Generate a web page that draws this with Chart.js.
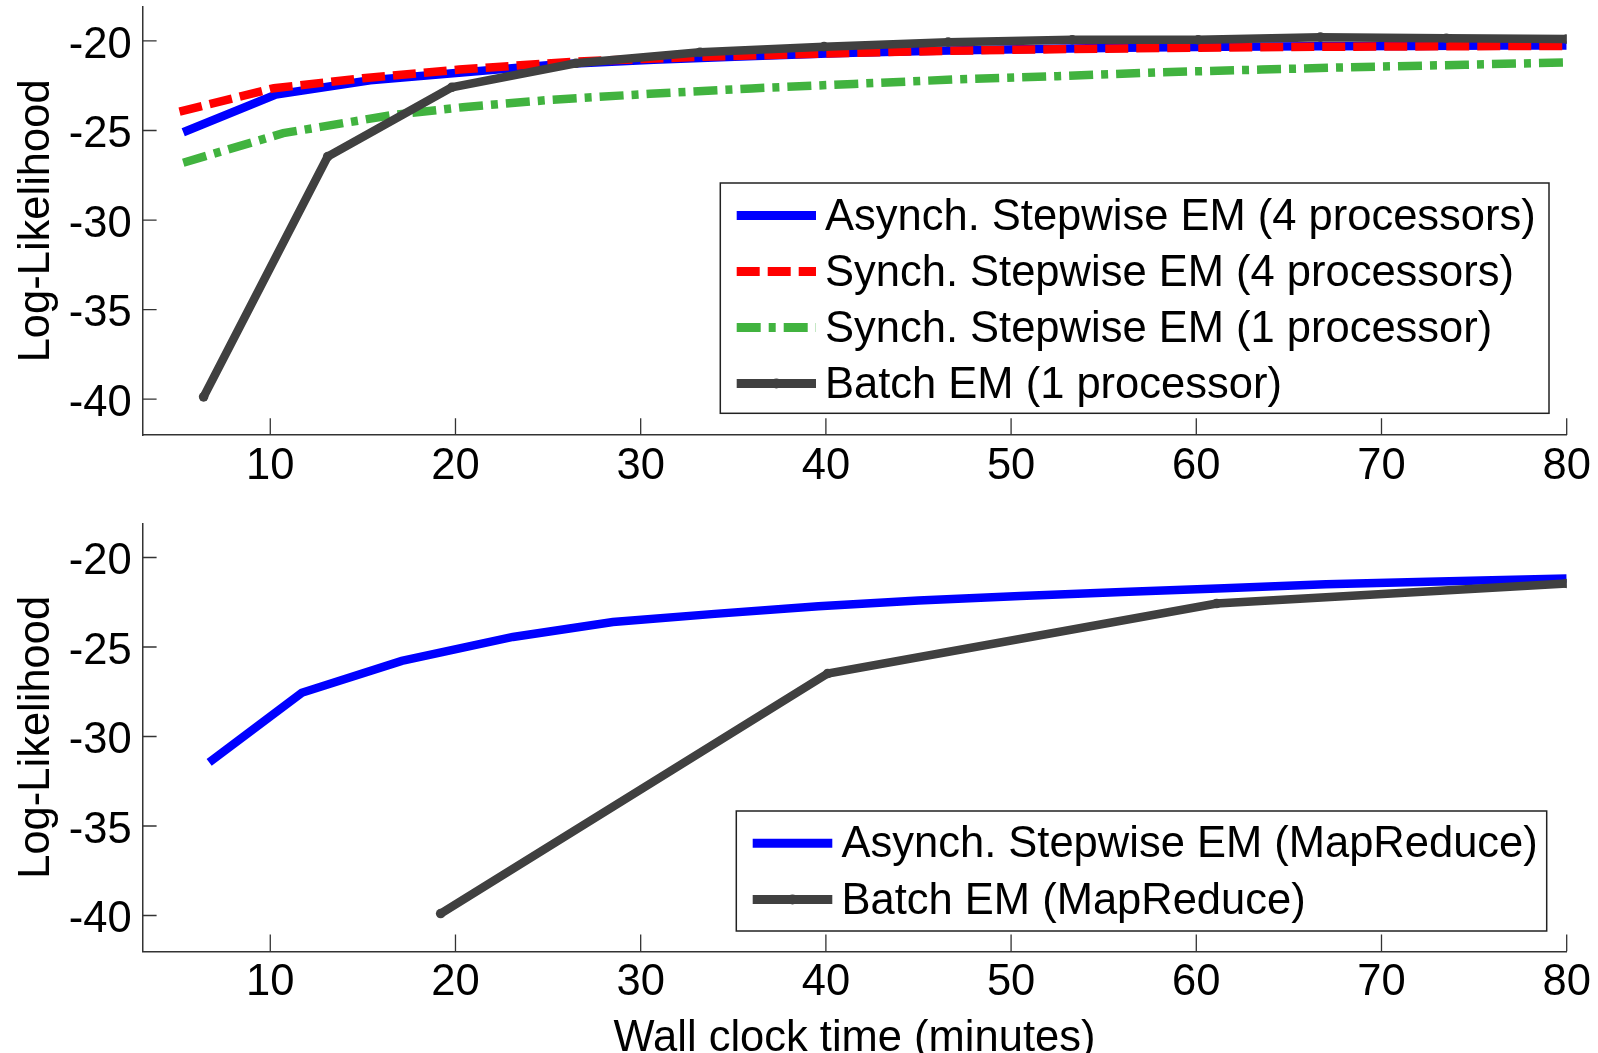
<!DOCTYPE html>
<html><head><meta charset="utf-8">
<script src="https://cdn.jsdelivr.net/npm/chart.js@4.4.1/dist/chart.umd.min.js"></script>
<style>
html,body{margin:0;padding:0;background:#fff;overflow:hidden;width:1598px;height:1053px;}
#c1{position:absolute;left:0;top:0;}
#c2{position:absolute;left:0;top:505px;}
</style></head><body>
<canvas id="c1" width="1598" height="505"></canvas>
<canvas id="c2" width="1598" height="548"></canvas>
<script>
// ---- data ----
const xTickValues = [10, 20, 30, 40, 50, 60, 70, 80];
const yTickValues = [-40, -35, -30, -25, -20];

const topLabels = ["Asynch. Stepwise EM (4 processors)", "Synch. Stepwise EM (4 processors)", "Synch. Stepwise EM (1 processor)", "Batch EM (1 processor)"];
const topAsyncX = [5.3, 10.3, 15.4, 20.5, 25.6, 30.7, 35.8, 40.9, 46.0, 51.1, 56.2, 61.3, 66.4, 71.5, 76.6, 80];
const topAsyncY = [-25.1, -23.0, -22.2, -21.75, -21.3, -21.05, -20.85, -20.68, -20.55, -20.45, -20.38, -20.33, -20.3, -20.28, -20.26, -20.25];
const topSync4X = [5.1, 10.2, 15.0, 20.2, 26.5, 33.0, 40.0, 46.6, 53.3, 60.0, 66.7, 73.3, 80];
const topSync4Y = [-23.95, -22.64, -22.08, -21.6, -21.15, -20.9, -20.7, -20.55, -20.45, -20.38, -20.33, -20.3, -20.28];
const topSync1X = [5.3, 10.7, 16.5, 20.4, 25.0, 30.5, 36.0, 41.5, 47.0, 52.5, 58.0, 63.5, 69.0, 74.5, 80];
const topSync1Y = [-26.8, -25.15, -24.15, -23.7, -23.3, -22.95, -22.65, -22.4, -22.15, -21.97, -21.75, -21.6, -21.45, -21.33, -21.2];
const topBatchX = [6.4, 13.1, 19.8, 26.5, 33.2, 39.9, 46.6, 53.3, 60.1, 66.7, 73.5, 80];
const topBatchY = [-39.87, -26.46, -22.59, -21.25, -20.63, -20.32, -20.07, -19.94, -19.94, -19.79, -19.85, -19.9];

const botLabels = ["Asynch. Stepwise EM (MapReduce)", "Batch EM (MapReduce)"];
const botAsyncX = [6.7, 11.7, 17.1, 23.1, 28.5, 34.0, 39.6, 45.0, 50.5, 56.0, 61.5, 67.0, 72.5, 80];
const botAsyncY = [-31.45, -27.56, -25.78, -24.44, -23.6, -23.15, -22.72, -22.4, -22.15, -21.93, -21.72, -21.5, -21.35, -21.17];
const botBatchX = [19.2, 40.1, 61.1, 80];
const botBatchY = [-39.89, -26.48, -22.57, -21.45];

// ---- helpers ----
const FAM = '"Liberation Sans", Arial, Helvetica, sans-serif';
const FS = 43.5;
const LW = 8.5;
const pts = (xs, ys) => xs.map((x, i) => ({x: x, y: ys[i]}));

const BLUE = '#0000ff', RED = '#ff0000', GREEN = '#41b33f', DARK = '#404040';

function ds(label, xs, ys, color, dash, order, marker) {
  return {
    label: label, data: pts(xs, ys), borderColor: color, backgroundColor: color,
    borderWidth: LW, borderDash: dash, borderCapStyle: 'butt', borderJoinStyle: 'miter',
    pointRadius: marker ? 4.8 : 0, pointHoverRadius: 0, pointBackgroundColor: color,
    pointBorderWidth: 0, tension: 0, fill: false, order: order, _marker: marker
  };
}

const innerTicks = {
  id: 'innerTicks',
  beforeDatasetsDraw(chart) {
    const {ctx, chartArea: a, scales: {x, y}} = chart;
    ctx.save();
    ctx.strokeStyle = '#333'; ctx.lineWidth = 1.3;
    ctx.beginPath();
    x.ticks.forEach(t => { const p = x.getPixelForValue(t.value); ctx.moveTo(p, a.bottom); ctx.lineTo(p, a.bottom - 16.7); });
    y.ticks.forEach(t => { const p = y.getPixelForValue(t.value); ctx.moveTo(a.left, p); ctx.lineTo(a.left + 14.3, p); });
    ctx.stroke();
    ctx.restore();
  }
};

const boxLegend = {
  id: 'boxLegend',
  afterDraw(chart, args, o) {
    const ctx = chart.ctx;
    ctx.save();
    ctx.fillStyle = '#fff';
    ctx.fillRect(o.left, o.top, o.right - o.left, o.bottom - o.top);
    ctx.strokeStyle = '#222'; ctx.lineWidth = 1.5; ctx.setLineDash([]);
    ctx.strokeRect(o.left, o.top, o.right - o.left, o.bottom - o.top);
    chart.data.datasets.forEach((d, i) => {
      const yy = o.rows[i];
      ctx.strokeStyle = d.borderColor; ctx.lineWidth = 9; ctx.lineCap = 'butt';
      ctx.setLineDash(d.borderDash || []);
      ctx.beginPath(); ctx.moveTo(o.sx0, yy); ctx.lineTo(o.sx1, yy); ctx.stroke();
      ctx.setLineDash([]);
      if (d._marker) {
        ctx.fillStyle = d.borderColor;
        ctx.beginPath(); ctx.arc((o.sx0 + o.sx1) / 2, yy, 5, 0, Math.PI * 2); ctx.fill();
      }
      ctx.fillStyle = '#000'; ctx.font = FS + 'px ' + FAM;
      ctx.textBaseline = 'middle'; ctx.textAlign = 'left';
      ctx.fillText(d.label, o.tx, yy + 2);
    });
    ctx.restore();
  }
};

function makeOptions(cfg) {
  return {
    responsive: false, animation: false, devicePixelRatio: 1,
    layout: {padding: {top: cfg.padTop, right: 31.3, left: 0, bottom: 0}},
    plugins: {legend: {display: false}, tooltip: {enabled: false}, boxLegend: cfg.legend},
    scales: {
      x: {
        type: 'linear', min: 3.09, max: 80,
        afterBuildTicks: s => { s.ticks = xTickValues.map(v => ({value: v})); },
        afterFit: s => { s.height = cfg.xHeight; },
        grid: {display: false, drawTicks: true, tickLength: 10.25},
        border: {display: true, color: '#333', width: 1.5},
        ticks: {padding: 0, color: '#000', maxRotation: 0, autoSkip: false,
          font: {family: FAM, size: FS, lineHeight: 1}, callback: v => String(v)},
        title: cfg.xTitle ? {display: true, text: 'Wall clock time (minutes)', color: '#000',
          font: {family: FAM, size: FS, lineHeight: 0.5}, padding: {top: 0, bottom: 2.8}} : {display: false}
      },
      y: {
        type: 'linear', min: -42.0, max: -18.09,
        afterBuildTicks: s => { s.ticks = yTickValues.map(v => ({value: v})); },
        afterFit: s => { s.width = 142.3; },
        grid: {display: false, drawTicks: true, tickLength: 10.6},
        border: {display: true, color: '#333', width: 1.5},
        ticks: {padding: 0, color: '#000', labelOffset: 4.7,
          font: {family: FAM, size: FS, lineHeight: 0.3}, callback: v => String(v)},
        title: {display: true, text: 'Log-Likelihood', color: '#000',
          font: {family: FAM, size: FS, lineHeight: 1}, padding: {top: 14.75, bottom: 0}}
      }
    }
  };
}

new Chart(document.getElementById('c1'), {
  type: 'line',
  data: {datasets: [
    ds(topLabels[0], topAsyncX, topAsyncY, BLUE, [], 3, false),
    ds(topLabels[1], topSync4X, topSync4Y, RED, [23, 8], 1, false),
    ds(topLabels[2], topSync1X, topSync1Y, GREEN, [24, 8, 7, 8], 2, false),
    ds(topLabels[3], topBatchX, topBatchY, DARK, [], 0, true)
  ]},
  options: makeOptions({padTop: 6.7, xHeight: 70, xTitle: false,
    legend: {left: 720.3, top: 183, right: 1549, bottom: 413.3, sx0: 736.7, sx1: 816, tx: 825, rows: [215.5, 271.5, 327.5, 383.5]}}),
  plugins: [innerTicks, boxLegend]
});

new Chart(document.getElementById('c2'), {
  type: 'line',
  data: {datasets: [
    ds(botLabels[0], botAsyncX, botAsyncY, BLUE, [], 1, false),
    ds(botLabels[1], botBatchX, botBatchY, DARK, [], 0, true)
  ]},
  options: makeOptions({padTop: 18.3, xHeight: 101.7, xTitle: true,
    legend: {left: 736.3, top: 306, right: 1546.7, bottom: 426, sx0: 752.7, sx1: 832.3, tx: 841.5, rows: [338.3, 394.5]}}),
  plugins: [innerTicks, boxLegend]
});
</script>
</body></html>
